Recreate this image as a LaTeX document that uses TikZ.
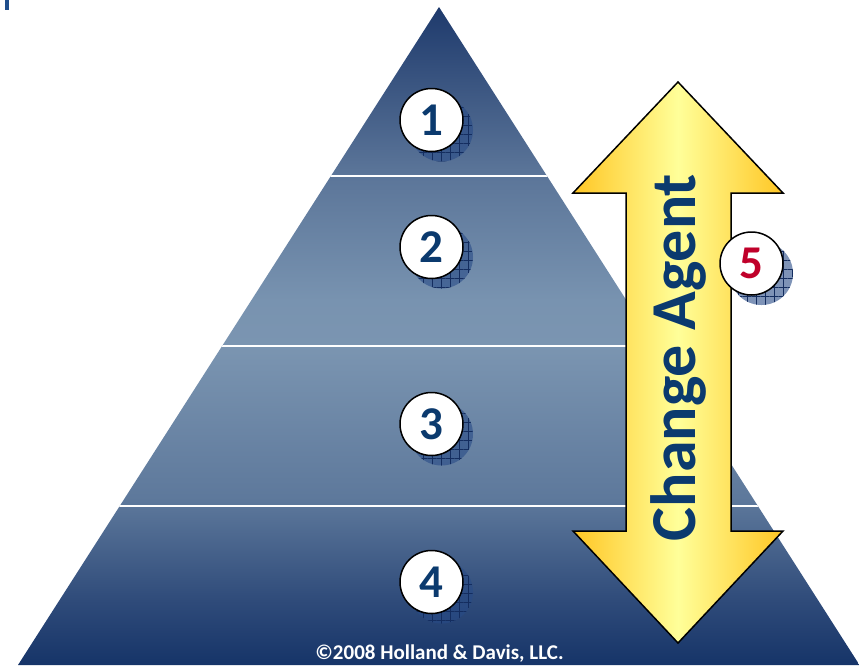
\documentclass[tikz,border=0pt]{standalone}
\usepackage{fontspec}
\setmainfont{Carlito}
\usetikzlibrary{patterns.meta}
\definecolor{navy}{RGB}{11,58,110}
\definecolor{alertred}{RGB}{192,0,42}
\definecolor{arrowgold}{RGB}{255,198,36}
\definecolor{arrowpale}{RGB}{255,255,153}
\definecolor{shadowblue}{RGB}{40,75,135}
\definecolor{gridblue}{RGB}{20,45,95}
\definecolor{barblue}{RGB}{31,78,140}
\pgfdeclareverticalshading{pyramidshade}{100bp}{
  rgb(0bp)=(0.086,0.204,0.408); rgb(25bp)=(0.086,0.204,0.408);
  rgb(29.9bp)=(0.184,0.294,0.478); rgb(37.5bp)=(0.365,0.471,0.608);
  rgb(49.2bp)=(0.482,0.584,0.694); rgb(52.7bp)=(0.471,0.576,0.690);
  rgb(62.6bp)=(0.353,0.455,0.596); rgb(75bp)=(0.118,0.227,0.424);
  rgb(100bp)=(0.118,0.227,0.424)}
\tikzset{
  numcirc/.style={circle, draw=black, line width=1.5pt, fill=white, inner sep=0pt,
    minimum size=63pt, text=navy, font=\bfseries\fontsize{47}{47}\selectfont},
  numshadow/.style={preaction={fill=shadowblue, fill opacity=0.6},
    pattern={Hatch[angle=0, distance=9pt, line width=0.6pt]}, pattern color=gridblue},
  agentarrow/.style={left color=arrowgold, right color=arrowgold, middle color=arrowpale,
    draw=black, line width=1.5pt, line join=miter},
  divider/.style={white, line width=2pt}
}
\begin{document}
\begin{tikzpicture}[x=1pt,y=-1pt]
\useasboundingbox (0,0) rectangle (859,665);
% small mark top left
\fill[barblue] (5,0) rectangle (9,10);
% pyramid
\coordinate (apex) at (439,7);
\coordinate (bl) at (18,665);
\coordinate (br) at (859.5,665);
\shade[shading=pyramidshade] (apex) -- (br) -- (bl) -- cycle;
\begin{scope}
  \clip (apex) -- (br) -- (bl) -- cycle;
  \foreach \yy in {176,346,506}
    \draw[divider] (0,\yy) -- (859,\yy);
\end{scope}
% numbered levels
\foreach \nm/\yy in {1/120,2/247,3/424,4/582} {
  \fill[numshadow] (441.5,\yy+10) circle (31.5);
  \node[numcirc] (n\nm) at (431.5,\yy) {\nm};
}
% change agent arrow
\draw[agentarrow] (678,82) -- (783,193) -- (731,193) -- (731,531) -- (783,531) -- (678,643)
  -- (573,531) -- (626,531) -- (626,193) -- (573,193) -- cycle;
\node[rotate=90, anchor=base, text=navy, font=\bfseries\fontsize{64}{64}\selectfont]
  (agent) at (695,357.5) {Change Agent};
\fill[numshadow] (761.5,273.5) circle (31.5);
\node[numcirc, text=alertred] (n5) at (751.5,263.5) {5};
% copyright
\node[anchor=base, text=white, font=\bfseries\fontsize{21}{21}\selectfont]
  (copy) at (439.5,659) {©2008 Holland \& Davis, LLC.};
\end{tikzpicture}
\end{document}
